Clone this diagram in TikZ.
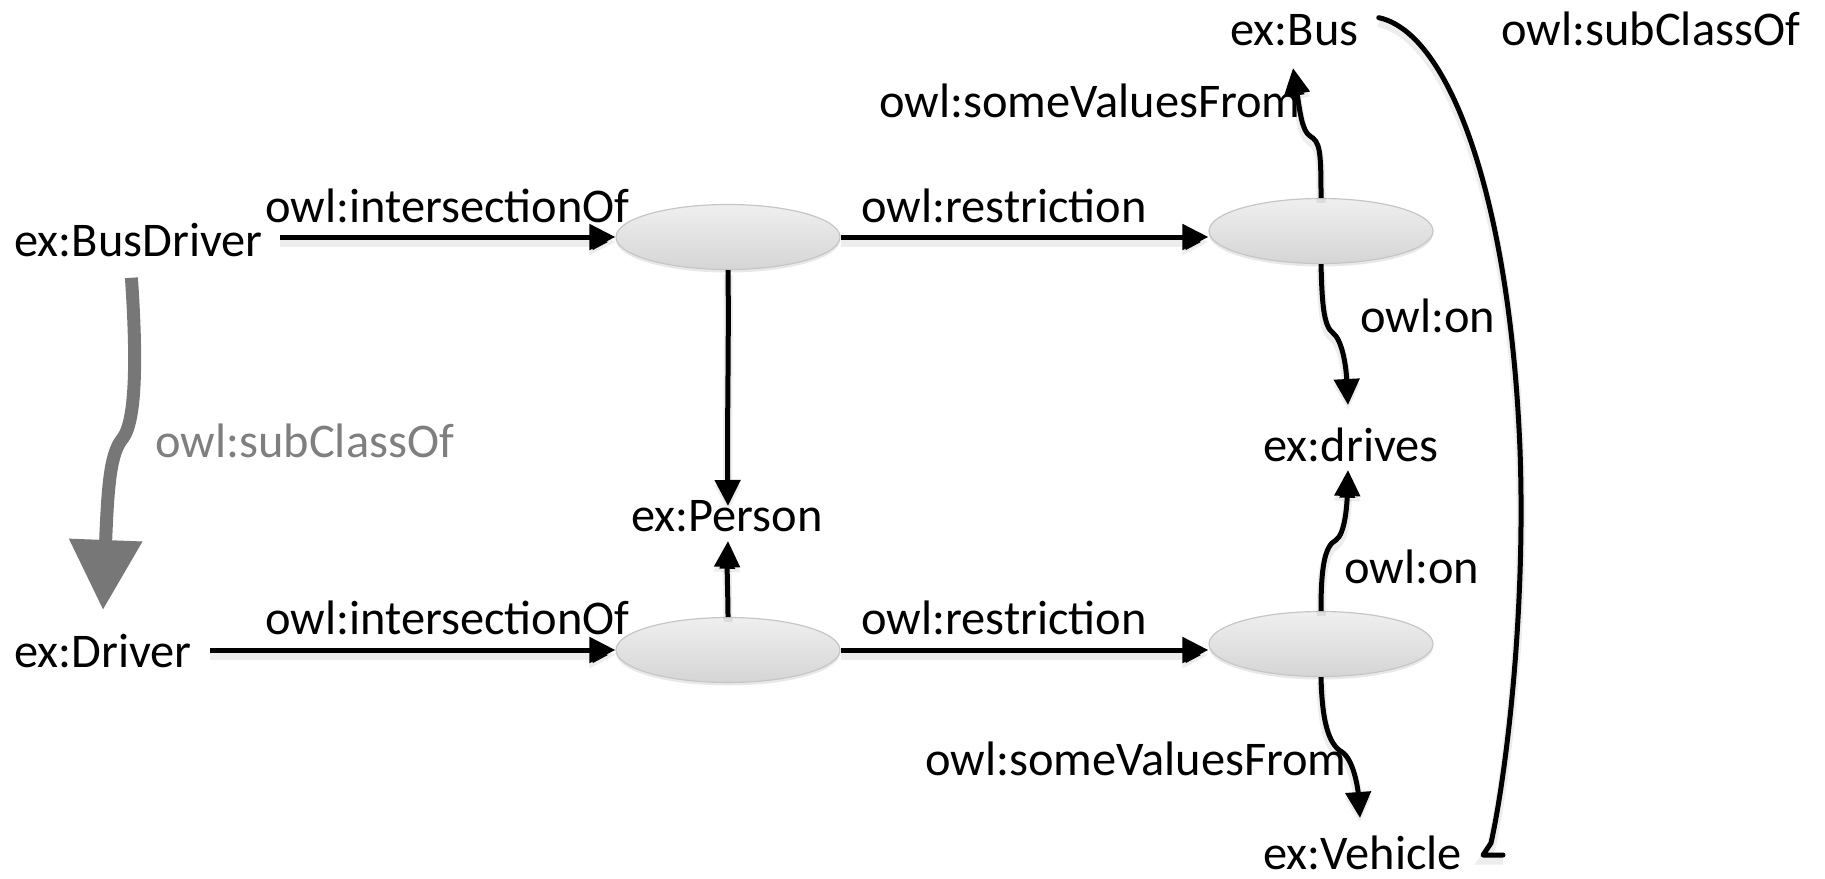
\documentclass[tikz,border=0pt]{standalone}
\usepackage{fontspec}
\setmainfont{Carlito}
\usetikzlibrary{arrows.meta,shapes.geometric,shadows,calc}
\definecolor{subgray}{HTML}{777777}
\definecolor{labgray}{HTML}{7F7F7F}
\definecolor{blanktop}{HTML}{EFEFEF}
\definecolor{blankbot}{HTML}{D5D5D5}
\definecolor{blankrim}{HTML}{C6C6C6}
\begin{document}
\begin{tikzpicture}[x=0.5pt,y=-0.5pt,
  txt/.style={inner sep=0pt,anchor=base west,font=\fontsize{24.2}{29}\selectfont},
  blank/.style={ellipse,minimum width=112pt,minimum height=32.5pt,inner sep=0pt,
    top color=blanktop,bottom color=blankbot,draw=blankrim,line width=0.6pt,
    drop shadow={opacity=0.18,shadow xshift=0pt,shadow yshift=-1.5pt}},
  soft/.style={preaction={draw=black,draw opacity=0.07,line width=4.5pt,
    transform canvas={yshift=-2.5pt}}},
  arr/.style={soft,line width=2.5pt,-{Triangle[length=13pt,width=12.5pt]}},
  plain/.style={soft,line width=2.5pt,line cap=round,line join=round},
  subarr/.style={line width=6.5pt,draw=subgray,-{Triangle[length=35pt,width=35pt]}}]
\useasboundingbox (0,0) rectangle (1825,878);

% class and property labels
\node[txt] (bd)   at (14,256)   {ex:BusDriver};
\node[txt] (drv)  at (14,667)   {ex:Driver};
\node[txt] (pers) at (631,531)  {ex:Person};
\node[txt] (bus)  at (1230,45)  {ex:Bus};
\node[txt] (drs)  at (1263,461) {ex:drives};
\node[txt] (veh)  at (1263,869) {ex:Vehicle};

% blank nodes
\node[blank] (e1) at (728,237)  {};
\node[blank] (e2) at (1321,231) {};
\node[blank] (e3) at (728,650)  {};
\node[blank] (e4) at (1321,644) {};

% edge labels
\node[txt] at (265,222)  {owl:intersectionOf};
\node[txt] at (265,634)  {owl:intersectionOf};
\node[txt] at (861,222)  {owl:restriction};
\node[txt] at (861,634)  {owl:restriction};
\node[txt] at (879,117)  {owl:someValuesFrom};
\node[txt] at (925,775)  {owl:someValuesFrom};
\node[txt] at (1360,332) {owl:on};
\node[txt] at (1344,583) {owl:on};
\node[txt] at (1501,45)  {owl:subClassOf};
\node[txt,text=labgray] at (155,457) {owl:subClassOf};

% connector end points
\coordinate (pTop) at (728,506);
\coordinate (pBot) at (728,541);
\coordinate (busIn) at (1293,68);
\coordinate (drsTop) at (1348,405);
\coordinate (drsBot) at (1348,470);
\coordinate (vehIn) at (1360,818);
\coordinate (subEnd) at (103,610);

% horizontal edges
\draw[arr] ($(bd.east |- e1.west)+(17,0)$) -- (e1.west);
\draw[arr] ($(drv.east |- e3.west)+(18,0)$) -- (e3.west);
\draw[arr] (e1.east) -- ($(e2.west)+(0,6)$);
\draw[arr] (e3.east) -- ($(e4.west)+(0,6)$);

% to ex:Person
\draw[arr] (e1.south) .. controls (729,340) and (727,420) .. (pTop);
\draw[arr] (e3.north) .. controls (728,600) and (727,570) .. (pBot);

% restriction edges
\draw[arr] (e2.north) .. controls (1321,150) and (1320,142) .. (1310,136)
  .. controls (1302,131) and (1300,112) .. (busIn);
\draw[arr] (e2.south) .. controls (1322,300) and (1323,326) .. (1333,333)
  .. controls (1342,340) and (1346,365) .. (drsTop);
\draw[arr] (e4.north) .. controls (1321,570) and (1324,546) .. (1336,540)
  .. controls (1345,534) and (1347,505) .. (drsBot);
\draw[arr] (e4.south) .. controls (1322,720) and (1328,744) .. (1342,752)
  .. controls (1354,760) and (1358,790) .. (vehIn);

% ex:Bus subclass of ex:Vehicle
\draw[plain] ($(bus.east)+(20,-12)$) .. controls (1450,33) and (1510,200) .. (1520,450)
  .. controls (1526,620) and (1505,780) .. (1491,843) -- (1483,855) -- (1503,855);

% ex:BusDriver subclass of ex:Driver
\draw[subarr] ($(bd.south)+(-7,21)$) .. controls (137,360) and (136,420) .. (123,438)
  .. controls (111,452) and (108,480) .. (subEnd);
\end{tikzpicture}
\end{document}
